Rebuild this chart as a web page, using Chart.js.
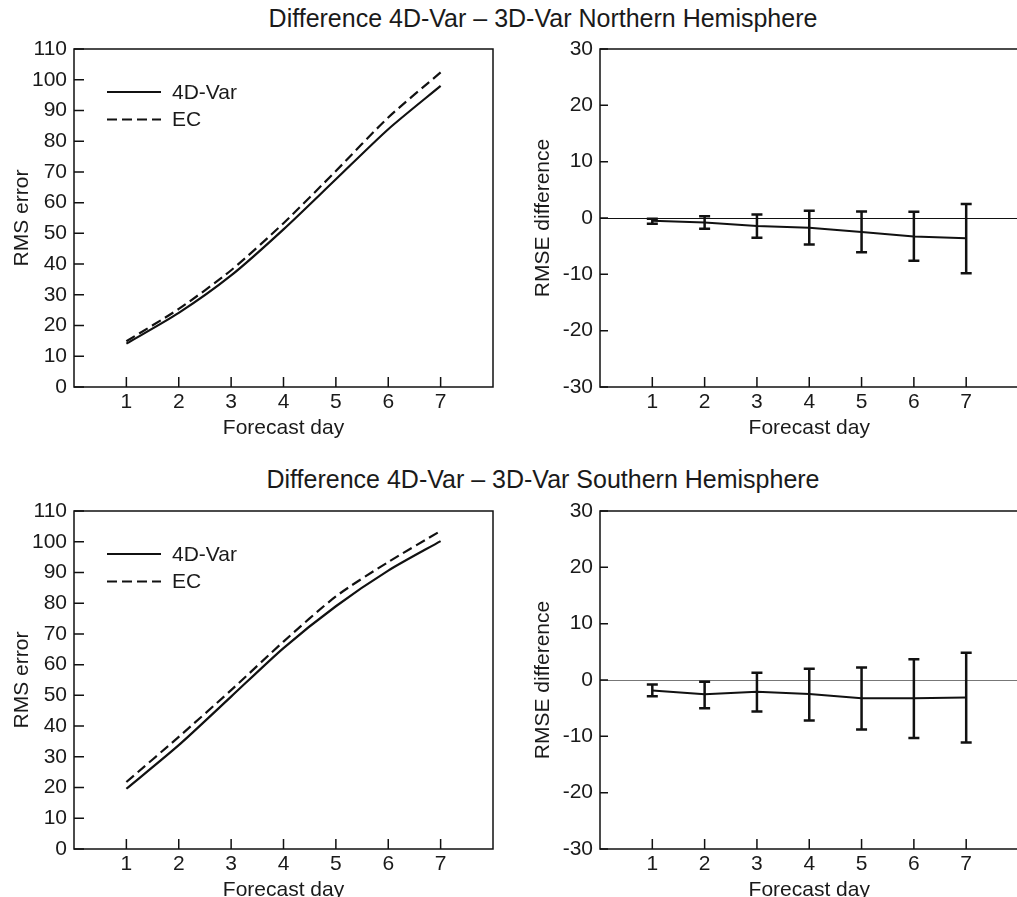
<!DOCTYPE html>
<html>
<head>
<meta charset="utf-8">
<script src="https://cdn.jsdelivr.net/npm/chart.js@4/dist/chart.umd.min.js"></script>
<style>
  html, body { margin: 0; padding: 0; background: #fff; width: 1017px; height: 897px; overflow: hidden; }
  .wrap { position: relative; width: 1017px; height: 897px; overflow: hidden; }
  canvas { position: absolute; }
  .head { position: absolute; left: 0; width: 1086px; text-align: center; font: 25px "Liberation Sans", Arial, sans-serif; line-height: 25px; color: #1a1a1a; white-space: nowrap; }
</style>
</head>
<body>
<div class="wrap">
  <div class="head" style="top:6px">Difference 4D-Var – 3D-Var Northern Hemisphere</div>
  <div class="head" style="top:467px">Difference 4D-Var – 3D-Var Southern Hemisphere</div>
  <canvas id="nhRms" width="500" height="450" style="left:0;top:0"></canvas>
  <canvas id="nhDiff" width="520" height="450" style="left:500px;top:0"></canvas>
  <canvas id="shRms" width="500" height="450" style="left:0;top:462px"></canvas>
  <canvas id="shDiff" width="520" height="450" style="left:500px;top:462px"></canvas>
</div>
<script>
// forecast days and values
const days = [1, 2, 3, 4, 5, 6, 7];
const rmsTicks = [0, 10, 20, 30, 40, 50, 60, 70, 80, 90, 100, 110];
const diffTicks = [-30, -20, -10, 0, 10, 20, 30];

const nh4dvar = [14.1, 24.1, 36.3, 51.3, 67.6, 83.9, 98.0];
const nhEC = [14.9, 25.4, 38.0, 53.3, 70.3, 87.7, 102.4];
const sh4dvar = [19.6, 33.8, 49.6, 65.4, 79.0, 90.6, 100.2];
const shEC = [21.8, 36.5, 51.7, 67.5, 82.2, 93.4, 103.5];

const nhDiff = [-0.5, -0.8, -1.4, -1.75, -2.5, -3.3, -3.6];
const nhDiffLow = [-1.0, -1.9, -3.5, -4.7, -6.1, -7.6, -9.8];
const nhDiffHigh = [-0.15, 0.3, 0.6, 1.3, 1.15, 1.1, 2.5];
const shDiff = [-1.85, -2.55, -2.1, -2.5, -3.25, -3.25, -3.1];
const shDiffLow = [-2.9, -5.0, -5.6, -7.2, -8.8, -10.3, -11.1];
const shDiffHigh = [-0.8, -0.3, 1.3, 2.0, 2.2, 3.7, 4.85];

Chart.defaults.font.family = '"Liberation Sans", Arial, sans-serif';
Chart.defaults.font.size = 21;
Chart.defaults.color = "#1a1a1a";

const ink = "#111";

function pts(vals) {
  return days.map((d, i) => ({ x: d, y: vals[i] }));
}

// box around the plot area plus inward tick marks
const framePlugin = {
  id: "frame",
  afterDatasetsDraw(chart, args, opts) {
    const { ctx, chartArea: a, scales } = chart;
    ctx.save();
    ctx.strokeStyle = ink;
    ctx.lineWidth = 1.5;
    ctx.strokeRect(a.left, a.top, a.right - a.left, a.bottom - a.top);
    ctx.beginPath();
    scales.x.ticks.forEach((t) => {
      const px = scales.x.getPixelForValue(t.value);
      ctx.moveTo(px, a.bottom);
      ctx.lineTo(px, a.bottom - 10);
    });
    scales.y.ticks.forEach((t) => {
      const py = scales.y.getPixelForValue(t.value);
      ctx.moveTo(a.left, py);
      ctx.lineTo(a.left + opts.tickLen, py);
    });
    ctx.stroke();
    ctx.restore();
  },
};

const errorBarPlugin = {
  id: "errorBars",
  afterDatasetsDraw(chart, args, opts) {
    if (!opts.low) return;
    const { ctx, scales } = chart;
    ctx.save();
    ctx.strokeStyle = ink;
    ctx.lineWidth = 2.5;
    ctx.beginPath();
    days.forEach((d, i) => {
      const px = scales.x.getPixelForValue(d);
      const lo = scales.y.getPixelForValue(opts.low[i]);
      const hi = scales.y.getPixelForValue(opts.high[i]);
      ctx.moveTo(px, lo);
      ctx.lineTo(px, hi);
      ctx.moveTo(px - 5.5, lo);
      ctx.lineTo(px + 5.5, lo);
      ctx.moveTo(px - 5.5, hi);
      ctx.lineTo(px + 5.5, hi);
    });
    ctx.stroke();
    ctx.restore();
  },
};

const lineLegendPlugin = {
  id: "lineLegend",
  afterDatasetsDraw(chart, args, opts) {
    if (!opts.show) return;
    const { ctx, chartArea: a } = chart;
    ctx.save();
    chart.data.datasets.forEach((ds, i) => {
      const y = a.top + 43 + i * 27.5;
      const x0 = a.left + 33;
      ctx.strokeStyle = ds.borderColor;
      ctx.lineWidth = 2.2;
      ctx.setLineDash(ds.borderDash || []);
      ctx.beginPath();
      ctx.moveTo(x0, y);
      ctx.lineTo(x0 + 54, y);
      ctx.stroke();
      ctx.setLineDash([]);
      ctx.fillStyle = "#1a1a1a";
      ctx.font = '21px "Liberation Sans", Arial, sans-serif';
      ctx.textBaseline = "middle";
      ctx.fillText(ds.label, x0 + 65, y + 1);
    });
    ctx.restore();
  },
};

function makeChart(id, cfg) {
  const isDiff = cfg.kind === "diff";
  const yTicks = isDiff ? diffTicks : rmsTicks;
  return new Chart(document.getElementById(id), {
    type: "line",
    data: { datasets: cfg.datasets },
    plugins: [framePlugin, errorBarPlugin, lineLegendPlugin],
    options: {
      responsive: false,
      animation: false,
      layout: { padding: { top: 49, left: 0, right: isDiff ? 1.5 : 7, bottom: 0 } },
      elements: { point: { radius: 0 } },
      plugins: {
        legend: { display: false },
        tooltip: { enabled: false },
        frame: { tickLen: isDiff ? 8 : 10 },
        errorBars: cfg.errors || {},
        lineLegend: { show: !isDiff },
      },
      scales: {
        x: {
          type: "linear",
          min: 0,
          max: 8,
          afterBuildTicks: (s) => { s.ticks = days.map((v) => ({ value: v })); },
          afterFit: (s) => { s.height = 63; },
          grid: { display: false },
          border: { display: false },
          ticks: { padding: -5, maxRotation: 0, autoSkip: false },
          title: { display: true, text: "Forecast day", padding: { top: 0, bottom: 9 } },
        },
        y: {
          min: yTicks[0],
          max: yTicks[yTicks.length - 1],
          afterBuildTicks: (s) => { s.ticks = yTicks.map((v) => ({ value: v })); },
          afterFit: (s) => { s.width = isDiff ? 100 : 74; },
          grid: {
            drawTicks: false,
            lineWidth: 1,
            color: (c) => (c.tick && c.tick.value === 0 && isDiff ? cfg.zeroColor : "rgba(0,0,0,0)"),
          },
          border: { display: false },
          ticks: { padding: 7 },
          title: {
            display: true,
            text: isDiff ? "RMSE difference" : "RMS error",
            padding: { top: isDiff ? 31 : 10, bottom: 0 },
          },
        },
      },
    },
  });
}

function rmsSets(a, b) {
  return [
    { label: "4D-Var", data: pts(a), borderColor: ink, borderWidth: 2.2, tension: 0.25, fill: false },
    { label: "EC", data: pts(b), borderColor: ink, borderWidth: 2.2, borderDash: [10, 5], tension: 0.25, fill: false },
  ];
}

function diffSet(vals) {
  return [{ label: "difference", data: pts(vals), borderColor: ink, borderWidth: 2, tension: 0, fill: false }];
}

makeChart("nhRms", { kind: "rms", datasets: rmsSets(nh4dvar, nhEC) });
makeChart("shRms", { kind: "rms", datasets: rmsSets(sh4dvar, shEC) });
makeChart("nhDiff", {
  kind: "diff",
  datasets: diffSet(nhDiff),
  errors: { low: nhDiffLow, high: nhDiffHigh },
  zeroColor: "#111",
});
makeChart("shDiff", {
  kind: "diff",
  datasets: diffSet(shDiff),
  errors: { low: shDiffLow, high: shDiffHigh },
  zeroColor: "#777",
});
</script>
</body>
</html>
